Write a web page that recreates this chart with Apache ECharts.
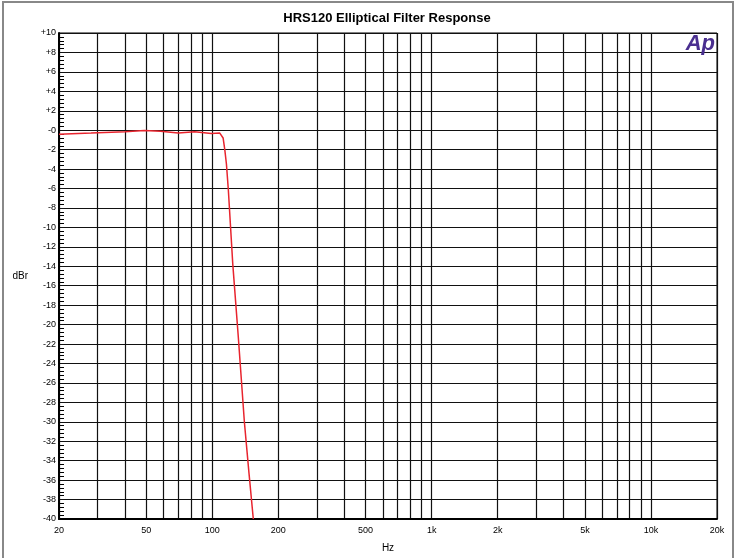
<!DOCTYPE html>
<html>
<head>
<meta charset="utf-8">
<script src="https://cdn.jsdelivr.net/npm/echarts@6/dist/echarts.min.js"></script>
<style>
  html, body { margin: 0; padding: 0; background: #fff; }
  #chart { width: 735px; height: 558px; }
</style>
</head>
<body>
<div id="chart"></div>
<script>
// response readings (Hz, dBr)
const freqs = [20, 28, 40, 49, 58, 70, 83, 99, 108, 112, 114, 116, 118.3, 124, 131.5, 140, 147, 153.8];
const levels = [-0.42, -0.3, -0.17, -0.04, -0.1, -0.28, -0.15, -0.35, -0.28, -0.8, -2.0, -3.5, -6.1, -13.8, -21.4, -30, -35.3, -40];

const gridFreqs = [20, 30, 40, 50, 60, 70, 80, 90, 100, 200, 300, 400, 500, 600, 700, 800, 900,
    1000, 2000, 3000, 4000, 5000, 6000, 7000, 8000, 9000, 10000, 20000];
const labelFreqs = [20, 50, 100, 200, 500, 1000, 2000, 5000, 10000, 20000];

const chart = echarts.init(document.getElementById('chart'));

const option = {
    animation: false,
    backgroundColor: '#fff',
    textStyle: { fontFamily: 'Liberation Sans, Arial, sans-serif' },
    title: {
        text: 'HRS120 Elliptical Filter Response',
        left: 382,
        top: 7,
        textAlign: 'center',
        textStyle: { fontSize: 13, fontWeight: 'bold', color: '#000' }
    },
    graphic: [
        {
            type: 'rect',
            shape: { x: 3, y: 2, width: 730, height: 560 },
            style: { fill: 'none', stroke: '#888', lineWidth: 2 },
            silent: true
        },
        {
            type: 'text',
            right: 20,
            top: 33,
            z: 10,
            style: {
                text: 'Ap',
                fill: '#4a2f90',
                font: 'italic bold 22px "Liberation Sans", Arial, sans-serif'
            }
        }
    ],
    grid: {
        left: 59, right: 18, top: 33, bottom: 37,
        show: true,
        borderColor: '#000',
        borderWidth: 1
    },
    xAxis: {
        type: 'log',
        logBase: 10,
        min: 20,
        max: 20000,
        name: 'Hz',
        nameLocation: 'middle',
        nameGap: 24,
        nameTextStyle: { fontSize: 10, color: '#000' },
        axisLine: { onZero: false, lineStyle: { color: '#000', width: 2 } },
        axisTick: { show: false, customValues: gridFreqs },
        axisLabel: {
            customValues: labelFreqs,
            fontSize: 9,
            color: '#000',
            margin: 7,
            formatter: v => v >= 1000 ? (v / 1000) + 'k' : String(v)
        },
        splitLine: { show: true, lineStyle: { color: '#111', width: 1.2 } }
    },
    yAxis: {
        type: 'value',
        min: -40,
        max: 10,
        interval: 2,
        name: 'dBr',
        nameLocation: 'middle',
        nameRotate: 0,
        nameGap: 31,
        nameTextStyle: { fontSize: 10, color: '#000' },
        axisLine: { show: true, onZero: false, lineStyle: { color: '#000', width: 2 } },
        axisTick: { show: false, inside: true },
        minorTick: { show: true, splitNumber: 5, length: 5, lineStyle: { color: '#000', width: 1 } },
        axisLabel: {
            fontSize: 9,
            color: '#000',
            margin: 3,
            formatter: v => v > 0 ? '+' + v : '-' + Math.abs(v)
        },
        splitLine: { show: true, lineStyle: { color: '#111', width: 1.2 } }
    },
    series: [
        {
            type: 'line',
            data: freqs.map((f, i) => [f, levels[i]]),
            showSymbol: false,
            smooth: false,
            lineStyle: { color: '#e8242e', width: 1.5 },
            z: 5
        }
    ]
};

chart.setOption(option);
</script>
</body>
</html>
